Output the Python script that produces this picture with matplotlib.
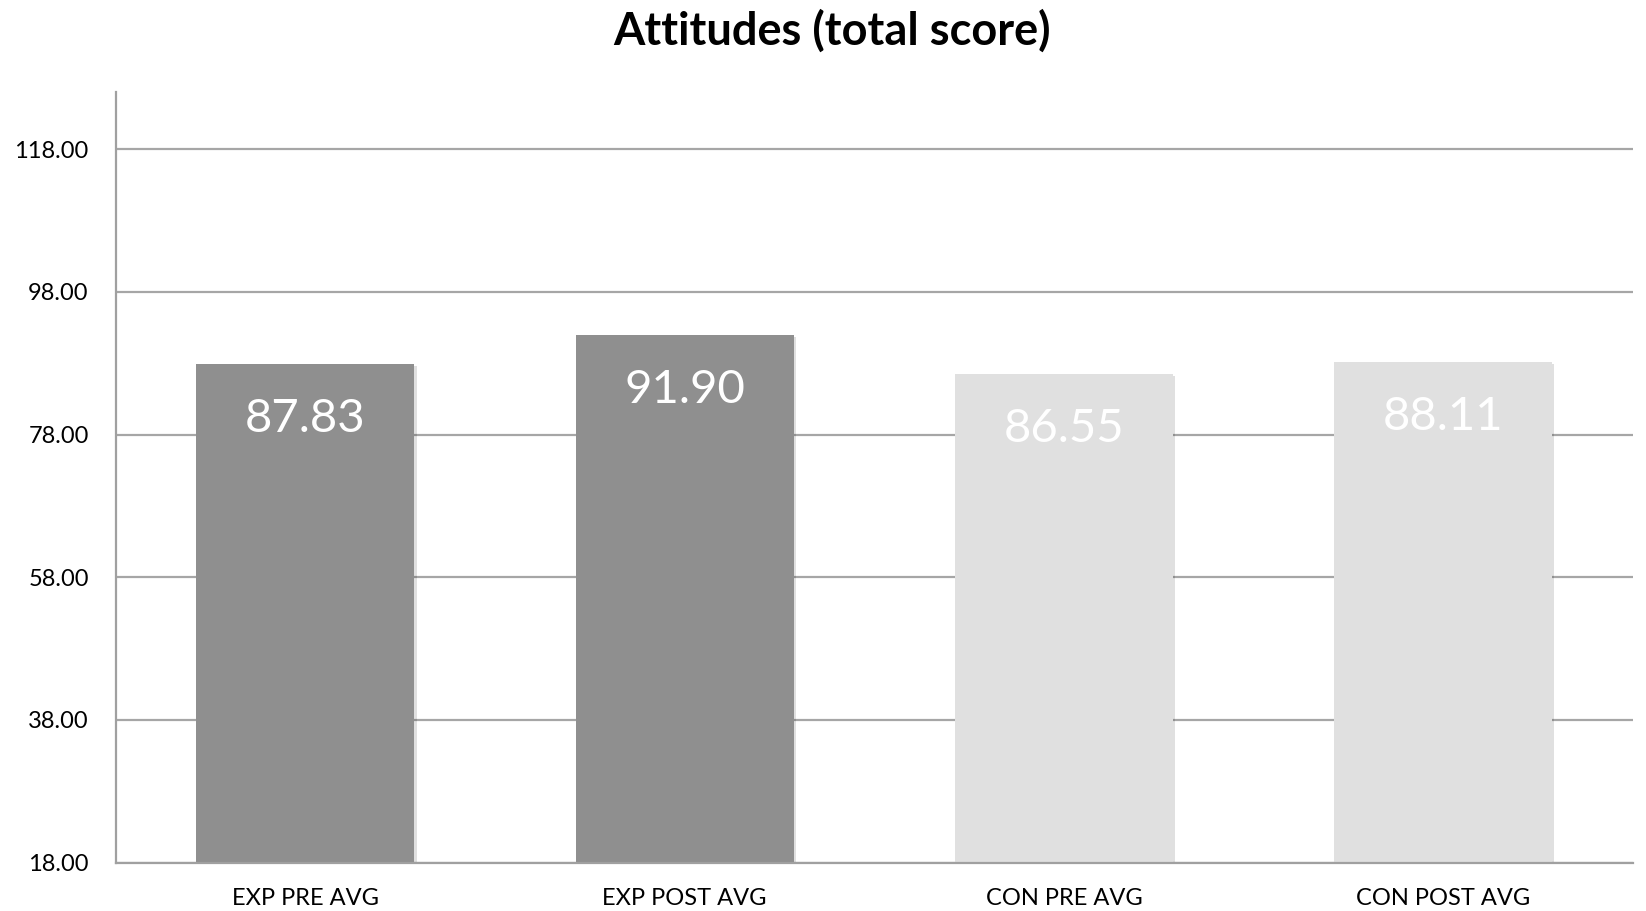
import matplotlib
matplotlib.use("Agg")
import matplotlib.pyplot as plt
import matplotlib.patheffects as pe

categories = ["EXP PRE AVG", "EXP POST AVG", "CON PRE AVG", "CON POST AVG"]
values = [87.83, 91.90, 86.55, 88.11]
bar_colors = ["#8f8f8f", "#8f8f8f", "#e0e0e0", "#e0e0e0"]
y_ticks = [18, 38, 58, 78, 98, 118]
title = "Attitudes (total score)"

plt.rcParams["font.family"] = ["Lato", "DejaVu Sans"]

W, H, DPI = 1646, 911, 100
fig = plt.figure(figsize=(W / DPI, H / DPI), dpi=DPI)
ax = fig.add_axes([115.7 / W, 1 - 862.7 / H, (1633 - 115.7) / W, (862.7 - 92) / H])

x = list(range(len(categories)))
shadow = [pe.SimplePatchShadow(offset=(1.5, -1.5), shadow_rgbFace="#000000", alpha=0.12), pe.Normal()]
bars = ax.bar(x, [v - 18 for v in values], bottom=18, width=0.575,
              color=bar_colors, zorder=3, linewidth=0)
for b in bars:
    b.set_path_effects(shadow)

for xi, v in zip(x, values):
    ax.annotate(f"{v:.2f}", xy=(xi, v), xytext=(0, -55), textcoords="offset pixels",
                ha="center", va="center", color="white", fontsize=34, zorder=4)

ax.set_xlim(-0.5, len(categories) - 0.5)
ax.set_ylim(18, 126)
ax.set_yticks(y_ticks)
ax.set_yticklabels([f"{t:.2f}" for t in y_ticks], fontsize=17)
ax.set_xticks(x)
ax.set_xticklabels(categories, fontsize=17)
ax.tick_params(axis="both", length=0)
ax.tick_params(axis="y", pad=27 * 72 / DPI)
ax.tick_params(axis="x", pad=25 * 72 / DPI)

ax.yaxis.grid(True, color="#a6a6a6", linewidth=1.6, zorder=1)
ax.set_axisbelow(True)
for side in ["top", "right"]:
    ax.spines[side].set_visible(False)
for side in ["left", "bottom"]:
    ax.spines[side].set_color("#a0a0a0")
    ax.spines[side].set_linewidth(1.6)
ax.spines["bottom"].set_zorder(5)

fig.text(832 / W, 1 - 31 / H, title, ha="center", va="center",
         fontsize=32.5, fontweight="bold")

fig.savefig("out.png", dpi=DPI)
